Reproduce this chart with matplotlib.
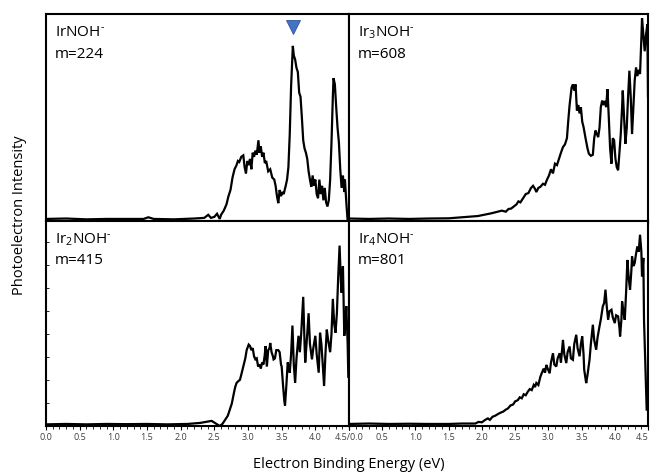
import matplotlib
matplotlib.use("Agg")
import matplotlib.pyplot as plt
from matplotlib.ticker import MultipleLocator

plt.rcParams['font.family'] = ['Open Sans', 'DejaVu Sans']
plt.rcParams['mathtext.fontset'] = 'custom'
plt.rcParams['mathtext.rm'] = 'Open Sans'
plt.rcParams['mathtext.it'] = 'Open Sans'

# ---- data (normalised intensity vs electron binding energy, eV) ----
e1 = [0.0, 0.3, 0.6, 0.9, 1.2, 1.45, 1.52, 1.6, 1.9, 2.2, 2.35, 2.41, 2.45, 2.5, 2.54, 2.58,
      2.6, 2.64, 2.68, 2.71, 2.74, 2.77, 2.8, 2.83, 2.85, 2.87, 2.9, 2.93, 2.95, 2.97, 2.99,
      3.01, 3.03, 3.05, 3.07, 3.09, 3.11, 3.13, 3.155, 3.17, 3.19, 3.21, 3.23, 3.25, 3.27, 3.3,
      3.33, 3.36, 3.39, 3.41, 3.43, 3.45, 3.47, 3.49, 3.51, 3.53, 3.56, 3.58, 3.6, 3.62, 3.64,
      3.666, 3.68, 3.7, 3.72, 3.74, 3.76, 3.78, 3.8, 3.82, 3.84, 3.86, 3.88, 3.9, 3.92, 3.94,
      3.96, 3.98, 4.0, 4.02, 4.04, 4.06, 4.08, 4.1, 4.12, 4.14, 4.16, 4.18, 4.2, 4.22, 4.24,
      4.26, 4.27, 4.29, 4.31, 4.33, 4.35, 4.37, 4.39, 4.41, 4.43, 4.44, 4.46, 4.48]
i1 = [0.01, 0.012, 0.008, 0.01, 0.01, 0.01, 0.018, 0.01, 0.008, 0.012, 0.015, 0.03, 0.015, 0.02,
      0.035, 0.01, 0.03, 0.05, 0.08, 0.12, 0.15, 0.21, 0.25, 0.27, 0.29, 0.285, 0.31, 0.317,
      0.26, 0.23, 0.29, 0.27, 0.3, 0.25, 0.33, 0.31, 0.34, 0.32, 0.39, 0.33, 0.36, 0.31, 0.33,
      0.28, 0.29, 0.24, 0.25, 0.21, 0.2, 0.17, 0.12, 0.086, 0.15, 0.12, 0.14, 0.13, 0.17, 0.2,
      0.26, 0.42, 0.65, 0.846, 0.8, 0.78, 0.74, 0.72, 0.62, 0.6, 0.5, 0.39, 0.35, 0.33, 0.3,
      0.24, 0.2, 0.165, 0.22, 0.17, 0.2, 0.13, 0.11, 0.2, 0.13, 0.17, 0.1, 0.16, 0.09, 0.07,
      0.1, 0.2, 0.38, 0.6, 0.69, 0.66, 0.55, 0.45, 0.38, 0.25, 0.16, 0.22, 0.14, 0.2, 0.09, 0.0]

e3 = [0.0, 0.3, 0.6, 0.9, 1.2, 1.5, 1.7, 1.94, 2.14, 2.3, 2.36, 2.4, 2.44, 2.48, 2.52, 2.55,
      2.58, 2.62, 2.66, 2.7, 2.74, 2.77, 2.8, 2.82, 2.85, 2.88, 2.92, 2.95, 2.98, 3.01, 3.04,
      3.07, 3.1, 3.13, 3.16, 3.19, 3.22, 3.25, 3.28, 3.3, 3.32, 3.35, 3.37, 3.39, 3.41, 3.43,
      3.45, 3.47, 3.49, 3.51, 3.53, 3.56, 3.59, 3.61, 3.64, 3.67, 3.69, 3.71, 3.73, 3.75, 3.77,
      3.79, 3.81, 3.83, 3.85, 3.87, 3.89, 3.91, 3.93, 3.95, 3.97, 3.99, 4.01, 4.03, 4.05, 4.07,
      4.09, 4.11, 4.12, 4.14, 4.16, 4.18, 4.2, 4.22, 4.24, 4.26, 4.28, 4.3, 4.32, 4.34, 4.36,
      4.38, 4.4, 4.41, 4.43, 4.45, 4.47, 4.49, 4.5]
i3 = [0.012, 0.01, 0.012, 0.01, 0.012, 0.013, 0.018, 0.024, 0.037, 0.05, 0.045, 0.058, 0.06,
      0.07, 0.08, 0.095, 0.09, 0.11, 0.13, 0.135, 0.16, 0.17, 0.155, 0.14, 0.16, 0.165, 0.18,
      0.175, 0.2, 0.22, 0.25, 0.23, 0.277, 0.27, 0.3, 0.33, 0.357, 0.37, 0.4, 0.485, 0.56,
      0.645, 0.66, 0.63, 0.66, 0.534, 0.56, 0.52, 0.55, 0.48, 0.454, 0.4, 0.35, 0.325, 0.315,
      0.32, 0.4, 0.437, 0.42, 0.405, 0.45, 0.55, 0.582, 0.56, 0.58, 0.55, 0.637, 0.5, 0.35,
      0.277, 0.4, 0.39, 0.3, 0.26, 0.245, 0.33, 0.42, 0.55, 0.63, 0.5, 0.373, 0.45, 0.6, 0.726,
      0.6, 0.42, 0.55, 0.68, 0.742, 0.7, 0.73, 0.71, 0.88, 0.98, 0.9, 0.82, 0.9, 0.95, 0.6]

e2 = [0.0, 0.3, 0.6, 0.9, 1.2, 1.5, 1.8, 2.1, 2.29, 2.46, 2.58, 2.62, 2.66, 2.7, 2.73, 2.76,
      2.79, 2.81, 2.83, 2.86, 2.88, 2.9, 2.93, 2.96, 2.98, 3.01, 3.03, 3.05, 3.07, 3.09, 3.11,
      3.13, 3.15, 3.17, 3.19, 3.21, 3.23, 3.25, 3.26, 3.28, 3.3, 3.32, 3.33, 3.35, 3.37, 3.38,
      3.4, 3.42, 3.45, 3.47, 3.49, 3.5, 3.52, 3.54, 3.55, 3.57, 3.59, 3.61, 3.62, 3.64, 3.66,
      3.68, 3.7, 3.72, 3.75, 3.77, 3.79, 3.82, 3.84, 3.85, 3.88, 3.9, 3.92, 3.95, 3.97, 4.0,
      4.02, 4.05, 4.07, 4.09, 4.11, 4.13, 4.15, 4.17, 4.19, 4.22, 4.24, 4.26, 4.28, 4.3, 4.32,
      4.34, 4.36, 4.38, 4.39, 4.41, 4.43, 4.45, 4.46, 4.48, 4.49]
i2 = [0.008, 0.01, 0.008, 0.01, 0.009, 0.01, 0.008, 0.01, 0.015, 0.025, 0.0, 0.01, 0.03, 0.05,
      0.08, 0.11, 0.16, 0.19, 0.21, 0.22, 0.225, 0.25, 0.29, 0.33, 0.37, 0.397, 0.39, 0.37,
      0.38, 0.34, 0.325, 0.33, 0.29, 0.3, 0.28, 0.31, 0.3, 0.35, 0.39, 0.29, 0.37, 0.38, 0.405,
      0.36, 0.34, 0.325, 0.33, 0.37, 0.37, 0.36, 0.3, 0.29, 0.2, 0.12, 0.1, 0.2, 0.31, 0.28,
      0.26, 0.35, 0.49, 0.3, 0.21, 0.33, 0.44, 0.36, 0.45, 0.63, 0.4, 0.31, 0.45, 0.55, 0.4,
      0.325, 0.38, 0.44, 0.35, 0.26, 0.455, 0.4, 0.3, 0.195, 0.35, 0.47, 0.42, 0.36, 0.45, 0.62,
      0.5, 0.455, 0.55, 0.73, 0.88, 0.7, 0.65, 0.78, 0.44, 0.52, 0.585, 0.4, 0.24]

e4 = [0.0, 0.3, 0.6, 0.9, 1.2, 1.5, 1.7, 1.9, 1.95, 2.0, 2.05, 2.09, 2.12, 2.16, 2.2, 2.24,
      2.28, 2.32, 2.36, 2.39, 2.43, 2.47, 2.5, 2.54, 2.57, 2.6, 2.63, 2.66, 2.69, 2.72, 2.75,
      2.78, 2.8, 2.82, 2.85, 2.88, 2.9, 2.93, 2.95, 2.97, 2.99, 3.02, 3.04, 3.07, 3.09, 3.12,
      3.14, 3.17, 3.19, 3.22, 3.24, 3.27, 3.29, 3.32, 3.34, 3.37, 3.39, 3.42, 3.44, 3.47, 3.49,
      3.51, 3.53, 3.54, 3.56, 3.57, 3.59, 3.62, 3.64, 3.67, 3.69, 3.72, 3.74, 3.77, 3.79, 3.82,
      3.84, 3.86, 3.88, 3.9, 3.92, 3.95, 3.97, 4.0, 4.02, 4.05, 4.07, 4.08, 4.1, 4.11, 4.13,
      4.15, 4.17, 4.19, 4.21, 4.23, 4.25, 4.26, 4.28, 4.3, 4.32, 4.34, 4.36, 4.38, 4.4, 4.41,
      4.43, 4.44, 4.46, 4.48]
i4 = [0.01, 0.012, 0.01, 0.011, 0.01, 0.01, 0.012, 0.012, 0.02, 0.018, 0.03, 0.037, 0.03, 0.045,
      0.05, 0.058, 0.065, 0.07, 0.08, 0.085, 0.1, 0.105, 0.12, 0.126, 0.14, 0.135, 0.155, 0.15,
      0.167, 0.18, 0.175, 0.2, 0.19, 0.21, 0.2, 0.24, 0.257, 0.28, 0.26, 0.298, 0.28, 0.257,
      0.31, 0.355, 0.3, 0.29, 0.33, 0.355, 0.31, 0.42, 0.35, 0.307, 0.36, 0.388, 0.33, 0.323,
      0.4, 0.445, 0.38, 0.34, 0.4, 0.437, 0.35, 0.274, 0.23, 0.209, 0.25, 0.323, 0.4, 0.494,
      0.42, 0.372, 0.43, 0.486, 0.52, 0.584, 0.6, 0.665, 0.58, 0.518, 0.56, 0.567, 0.53, 0.502,
      0.54, 0.535, 0.48, 0.437, 0.52, 0.608, 0.56, 0.518, 0.65, 0.81, 0.72, 0.665, 0.76, 0.827,
      0.78, 0.795, 0.84, 0.876, 0.85, 0.933, 0.85, 0.73, 0.82, 0.518, 0.3, 0.08]

labels = [r"IrNOH$^{\text{-}}$", r"Ir$_{3}$NOH$^{\text{-}}$", r"Ir$_{2}$NOH$^{\text{-}}$",
          r"Ir$_{4}$NOH$^{\text{-}}$"]
masses = ["m=224", "m=608", "m=415", "m=801"]
marker_e = [3.666]
marker_i = [0.935]
tick_vals = [0.0, 0.5, 1.0, 1.5, 2.0, 2.5, 3.0, 3.5, 4.0, 4.5]

fig = plt.figure(figsize=(6.5, 4.75), dpi=100)
W, H = 650, 475
def pos(x0, y0, x1, y1):
    return [x0 / W, (H - y1) / H, (x1 - x0) / W, (y1 - y0) / H]

ax_tl = fig.add_axes(pos(46, 14, 349, 221))
ax_tr = fig.add_axes(pos(349, 14, 648, 221))
ax_bl = fig.add_axes(pos(46, 221, 349, 426))
ax_br = fig.add_axes(pos(349, 221, 648, 426))
axes = [ax_tl, ax_tr, ax_bl, ax_br]
series = [(e1, i1), (e3, i3), (e2, i2), (e4, i4)]

for k, (ax, (e, i)) in enumerate(zip(axes, series)):
    ax.plot(e, i, color='black', lw=1.6, solid_joinstyle='miter')
    ax.set_xlim(0, 4.5)
    ax.set_ylim(0, 1)
    for s in ax.spines.values():
        s.set_linewidth(1.5)
        s.set_color('black')
    ax.set_yticks([])
    ax.xaxis.set_minor_locator(MultipleLocator(0.1))
    ax.set_xticks(tick_vals)
    ax.tick_params(axis='x', which='major', direction='out', length=3, width=0.8,
                   labelsize=6.5, labelcolor='#404040', pad=2)
    ax.tick_params(axis='x', which='minor', direction='out', length=2, width=0.6)
    ax.text(0.03, 0.91, labels[k], transform=ax.transAxes, fontsize=11,
            va='center', ha='left')
    ax.text(0.03, 0.805, masses[k], transform=ax.transAxes, fontsize=11,
            va='center', ha='left')

for ax in (ax_tl, ax_tr):
    ax.tick_params(axis='x', labelbottom=False)

ax_bl.set_xticklabels(["0.0", "0.5", "1.0", "1.5", "2.0", "2.5", "3.0", "3.5", "4.0", "4.5/0.0"])
ax_br.set_xticklabels(["", "0.5", "1.0", "1.5", "2.0", "2.5", "3.0", "3.5", "4.0", "4.5"])
ax_br.get_xticklabels()[-1].set_horizontalalignment('right')

ax_bl.yaxis.set_major_locator(MultipleLocator(0.112))
ax_bl.tick_params(axis='y', direction='in', length=2.5, width=0.6, labelleft=False)

ax_tl.plot(marker_e, marker_i, marker='v', markersize=10, color='#4472C4',
           markeredgecolor='#2F5597', markeredgewidth=0.6, linestyle='none', clip_on=False)

fig.text(349 / W, 1 - 465 / H, "Electron Binding Energy (eV)", ha='center', va='center',
         fontsize=10.5)
fig.text(20 / W, 1 - 215 / H, "Photoelectron Intensity", ha='center', va='center',
         rotation=90, fontsize=10.5)

fig.savefig("out.png", dpi=100)
